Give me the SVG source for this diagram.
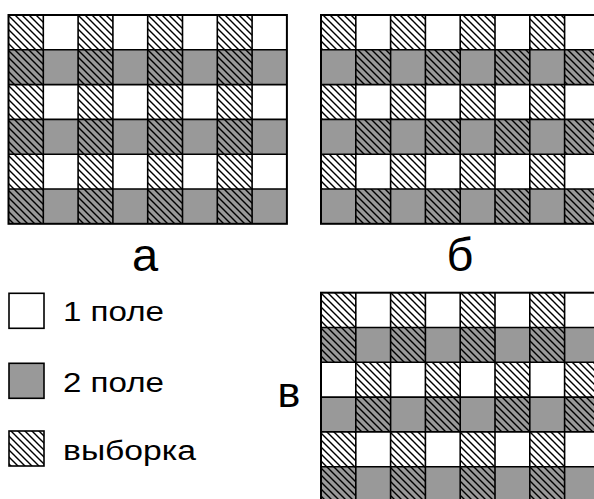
<svg xmlns="http://www.w3.org/2000/svg" width="594" height="499" viewBox="0 0 594 499">
<style>
.bgW{fill:#fff}
.bgG{fill:#999}
.h{fill:url(#hatch)}
.grid{fill:none;stroke:#000;stroke-width:1.6}
.frame{fill:none;stroke:#000;stroke-width:2}
.lab{font-family:"Liberation Sans",Arial,sans-serif;fill:#000}
.big{font-size:47px;text-anchor:middle}
.leg{font-size:27px}
</style>
<defs>
<pattern id="hatch" patternUnits="userSpaceOnUse" width="7" height="7">
<path d="M-1,-1 L8,8 M-1,6 L1,8 M6,-1 L8,1" stroke="#000" stroke-width="1.4"/>
</pattern>
</defs>
<rect width="594" height="499" fill="#fff"/>

<g id="panel-a">
<rect class="bgW" x="8.5" y="15" width="278.4" height="34.8"/>
<rect class="bgG" x="8.5" y="49.8" width="278.4" height="34.8"/>
<rect class="bgW" x="8.5" y="84.6" width="278.4" height="34.8"/>
<rect class="bgG" x="8.5" y="119.4" width="278.4" height="34.8"/>
<rect class="bgW" x="8.5" y="154.2" width="278.4" height="34.8"/>
<rect class="bgG" x="8.5" y="189" width="278.4" height="34.8"/>
<rect class="h" x="8.5" y="15" width="34.8" height="208.8"/>
<rect class="h" x="78.1" y="15" width="34.8" height="208.8"/>
<rect class="h" x="147.7" y="15" width="34.8" height="208.8"/>
<rect class="h" x="217.3" y="15" width="34.8" height="208.8"/>
<path class="grid" d="M43.3,15V223.8M78.1,15V223.8M112.9,15V223.8M147.7,15V223.8M182.5,15V223.8M217.3,15V223.8M252.1,15V223.8M8.5,49.8H286.9M8.5,84.6H286.9M8.5,119.4H286.9M8.5,154.2H286.9M8.5,189H286.9"/>
<rect class="frame" x="8.5" y="15" width="278.4" height="208.8"/>
</g>

<g id="panel-b">
<rect class="bgW" x="321" y="15" width="278.4" height="34.8"/>
<rect class="bgG" x="321" y="49.8" width="278.4" height="34.8"/>
<rect class="bgW" x="321" y="84.6" width="278.4" height="34.8"/>
<rect class="bgG" x="321" y="119.4" width="278.4" height="34.8"/>
<rect class="bgW" x="321" y="154.2" width="278.4" height="34.8"/>
<rect class="bgG" x="321" y="189" width="278.4" height="34.8"/>
<rect class="h" x="321" y="15" width="34.8" height="34.8"/>
<rect class="h" x="390.6" y="15" width="34.8" height="34.8"/>
<rect class="h" x="460.2" y="15" width="34.8" height="34.8"/>
<rect class="h" x="529.8" y="15" width="34.8" height="34.8"/>
<rect class="h" x="355.8" y="49.8" width="34.8" height="34.8"/>
<rect class="h" x="425.4" y="49.8" width="34.8" height="34.8"/>
<rect class="h" x="495" y="49.8" width="34.8" height="34.8"/>
<rect class="h" x="564.6" y="49.8" width="34.8" height="34.8"/>
<rect class="h" x="321" y="84.6" width="34.8" height="34.8"/>
<rect class="h" x="390.6" y="84.6" width="34.8" height="34.8"/>
<rect class="h" x="460.2" y="84.6" width="34.8" height="34.8"/>
<rect class="h" x="529.8" y="84.6" width="34.8" height="34.8"/>
<rect class="h" x="355.8" y="119.4" width="34.8" height="34.8"/>
<rect class="h" x="425.4" y="119.4" width="34.8" height="34.8"/>
<rect class="h" x="495" y="119.4" width="34.8" height="34.8"/>
<rect class="h" x="564.6" y="119.4" width="34.8" height="34.8"/>
<rect class="h" x="321" y="154.2" width="34.8" height="34.8"/>
<rect class="h" x="390.6" y="154.2" width="34.8" height="34.8"/>
<rect class="h" x="460.2" y="154.2" width="34.8" height="34.8"/>
<rect class="h" x="529.8" y="154.2" width="34.8" height="34.8"/>
<rect class="h" x="355.8" y="189" width="34.8" height="34.8"/>
<rect class="h" x="425.4" y="189" width="34.8" height="34.8"/>
<rect class="h" x="495" y="189" width="34.8" height="34.8"/>
<rect class="h" x="564.6" y="189" width="34.8" height="34.8"/>
<path class="grid" d="M355.8,15V223.8M390.6,15V223.8M425.4,15V223.8M460.2,15V223.8M495,15V223.8M529.8,15V223.8M564.6,15V223.8M321,49.8H599.4M321,84.6H599.4M321,119.4H599.4M321,154.2H599.4M321,189H599.4"/>
<rect class="frame" x="321" y="15" width="278.4" height="208.8"/>
</g>

<g id="panel-v">
<rect class="bgW" x="321" y="292.7" width="278.4" height="34.8"/>
<rect class="bgG" x="321" y="327.5" width="278.4" height="34.8"/>
<rect class="bgW" x="321" y="362.3" width="278.4" height="34.8"/>
<rect class="bgG" x="321" y="397.1" width="278.4" height="34.8"/>
<rect class="bgW" x="321" y="431.9" width="278.4" height="34.8"/>
<rect class="bgG" x="321" y="466.7" width="278.4" height="34.8"/>
<rect class="h" x="321" y="292.7" width="34.8" height="69.6"/>
<rect class="h" x="390.6" y="292.7" width="34.8" height="69.6"/>
<rect class="h" x="460.2" y="292.7" width="34.8" height="69.6"/>
<rect class="h" x="529.8" y="292.7" width="34.8" height="69.6"/>
<rect class="h" x="355.8" y="362.3" width="34.8" height="69.6"/>
<rect class="h" x="425.4" y="362.3" width="34.8" height="69.6"/>
<rect class="h" x="495" y="362.3" width="34.8" height="69.6"/>
<rect class="h" x="564.6" y="362.3" width="34.8" height="69.6"/>
<rect class="h" x="321" y="431.9" width="34.8" height="69.6"/>
<rect class="h" x="390.6" y="431.9" width="34.8" height="69.6"/>
<rect class="h" x="460.2" y="431.9" width="34.8" height="69.6"/>
<rect class="h" x="529.8" y="431.9" width="34.8" height="69.6"/>
<path class="grid" d="M355.8,292.7V501.5M390.6,292.7V501.5M425.4,292.7V501.5M460.2,292.7V501.5M495,292.7V501.5M529.8,292.7V501.5M564.6,292.7V501.5M321,327.5H599.4M321,362.3H599.4M321,397.1H599.4M321,431.9H599.4M321,466.7H599.4"/>
<rect class="frame" x="321" y="292.7" width="278.4" height="208.8"/>
</g>

<g id="labels">
<text class="lab big" x="145" y="271">а</text>
<text class="lab big" x="460" y="271">б</text>
<text class="lab big" x="289" y="407" style="font-size:43px">в</text>
</g>

<g id="legend-1">
<rect x="9" y="293.3" width="35" height="35" fill="#fff" stroke="#000" stroke-width="1.6"/>
<text class="lab leg" x="63" y="321" textLength="101" lengthAdjust="spacingAndGlyphs">1 поле</text>
</g>
<g id="legend-2">
<rect x="9" y="363.3" width="35" height="35" fill="#999" stroke="#000" stroke-width="1.6"/>
<text class="lab leg" x="63" y="391.5" textLength="101" lengthAdjust="spacingAndGlyphs">2 поле</text>
</g>
<g id="legend-3">
<rect x="9" y="431" width="35" height="35" fill="url(#hatch)" stroke="#000" stroke-width="1.6"/>
<text class="lab leg" x="63" y="460" textLength="133" lengthAdjust="spacingAndGlyphs">выборка</text>
</g>
</svg>
